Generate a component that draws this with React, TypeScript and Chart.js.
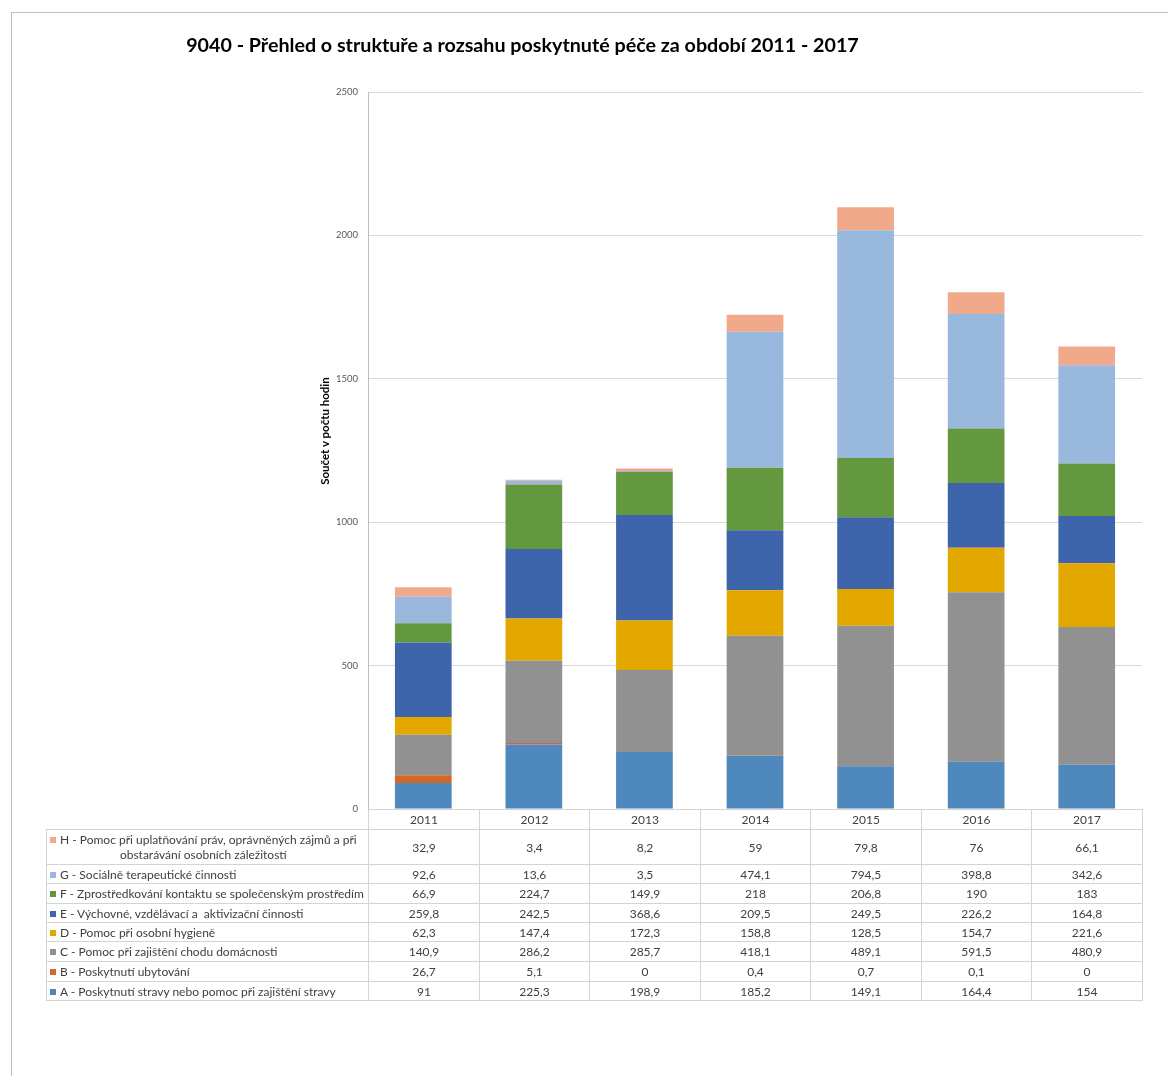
import React, { useEffect, useRef, useState } from "react";
import { Chart, registerables } from "chart.js";

Chart.register(...registerables);

const years = ["2011", "2012", "2013", "2014", "2015", "2016", "2017"];

const serA = [91, 225.3, 198.9, 185.2, 149.1, 164.4, 154];
const serB = [26.7, 5.1, 0, 0.4, 0.7, 0.1, 0];
const serC = [140.9, 286.2, 285.7, 418.1, 489.1, 591.5, 480.9];
const serD = [62.3, 147.4, 172.3, 158.8, 128.5, 154.7, 221.6];
const serE = [259.8, 242.5, 368.6, 209.5, 249.5, 226.2, 164.8];
const serF = [66.9, 224.7, 149.9, 218, 206.8, 190, 183];
const serG = [92.6, 13.6, 3.5, 474.1, 794.5, 398.8, 342.6];
const serH = [32.9, 3.4, 8.2, 59, 79.8, 76, 66.1];

const labA = "A - Poskytnutí stravy nebo pomoc při zajištění stravy";
const labB = "B - Poskytnutí ubytování";
const labC = "C - Pomoc při zajištění chodu domácnosti";
const labD = "D - Pomoc při osobní hygieně";
const labE = "E - Výchovné, vzdělávací a  aktivizační činnosti";
const labF = "F - Zprostředkování kontaktu se společenským prostředím";
const labG = "G - Sociálně terapeutické činnosti";
const labH = "H - Pomoc při uplatňování práv, oprávněných zájmů a při\nobstarávání osobních záležitostí";

const yTicks = [0, 500, 1000, 1500, 2000, 2500];

const title = "9040 - Přehled o struktuře a rozsahu poskytnuté péče za období 2011 - 2017";
const yTitle = "Součet v počtu hodin";

// bottom -> top stacking order
const seriesList = [
  { label: labA, data: serA, color: "#4E88BD" },
  { label: labB, data: serB, color: "#D2692A" },
  { label: labC, data: serC, color: "#919191" },
  { label: labD, data: serD, color: "#E2A800" },
  { label: labE, data: serE, color: "#3E64AC" },
  { label: labF, data: serF, color: "#63983F" },
  { label: labG, data: serG, color: "#98B8DE" },
  { label: labH, data: serH, color: "#F1A98C" },
];

const FONT = 'Lato, "Open Sans", sans-serif';
const W = 1160;
const H = 1068;
// row boundaries of the data table, offsets below the x axis
const rowEdges = [0, 20, 55, 74, 94, 113, 132, 152, 172, 191];
const LINE = "#D4D4D4";
const TEXT = "#404040";

const fmt = (v: number) => String(v).replace(".", ",");

export default function App() {
  const canvasRef = useRef<HTMLCanvasElement | null>(null);
  const [area, setArea] = useState<{ left: number; right: number; bottom: number } | null>(null);

  useEffect(() => {
    if (!canvasRef.current) return;
    const chart = new Chart(canvasRef.current, {
      type: "bar",
      data: {
        labels: years,
        datasets: seriesList.map((s) => ({
          label: s.label.replace("\n", " "),
          data: s.data,
          backgroundColor: s.color,
          borderWidth: 0,
          barPercentage: 1 / 1.95,
          categoryPercentage: 1,
        })),
      },
      options: {
        responsive: false,
        animation: false,
        devicePixelRatio: 1,
        layout: { padding: { left: 300, right: 26, top: 84, bottom: H - 801 } },
        plugins: { legend: { display: false }, tooltip: { enabled: false }, title: { display: false } },
        scales: {
          x: { stacked: true, display: false },
          y: {
            stacked: true,
            min: 0,
            max: 2500,
            afterFit: (scale: any) => {
              scale.width = 60;
            },
            afterBuildTicks: (scale: any) => {
              scale.ticks = yTicks.map((v) => ({ value: v }));
            },
            border: { display: true, color: "#BFBFBF", width: 1 },
            grid: { color: "#D9D9D9", lineWidth: 1, drawTicks: false },
            ticks: {
              color: "#595959",
              padding: 10,
              font: { family: FONT, size: 9.5 },
              callback: (v: any) => String(v),
            },
          },
        },
      },
    });
    setArea({
      left: Math.round(chart.chartArea.left),
      right: Math.round(chart.chartArea.right),
      bottom: Math.round(chart.chartArea.bottom),
    });
    return () => chart.destroy();
  }, []);

  const cells: React.ReactNode[] = [];
  if (area) {
    const n = years.length;
    const colX = (i: number) => Math.round(area.left + ((area.right - area.left) * i) / n);
    const rowY = (r: number) => area.bottom + rowEdges[r];
    const labelLeft = 38;
    const cellStyle = (x0: number, y0: number, x1: number, y1: number): React.CSSProperties => ({
      position: "absolute",
      left: x0,
      top: y0,
      width: x1 - x0 + 1,
      height: y1 - y0 + 1,
      boxSizing: "border-box",
      border: `1px solid ${LINE}`,
      display: "flex",
      alignItems: "center",
      justifyContent: "center",
      fontFamily: FONT,
      fontSize: 12,
      color: TEXT,
      whiteSpace: "pre",
    });
    // header row
    years.forEach((y, c) => {
      cells.push(
        <div key={`h${c}`} style={cellStyle(colX(c), rowY(0), colX(c + 1), rowY(1))}>
          {y}
        </div>
      );
    });
    const rows = [...seriesList].reverse();
    rows.forEach((s, r) => {
      const y0 = rowY(r + 1);
      const y1 = rowY(r + 2);
      const lines = s.label.split("\n");
      cells.push(
        <div
          key={`l${r}`}
          style={{ ...cellStyle(labelLeft, y0, area.left, y1), justifyContent: "flex-start", paddingLeft: 3 }}
        >
          <div style={{ display: "inline-block", textAlign: "center", lineHeight: "15px" }}>
            <div>
              <span
                style={{
                  display: "inline-block",
                  width: 6,
                  height: 6,
                  background: s.color,
                  marginRight: 4,
                  verticalAlign: "1px",
                }}
              />
              {lines[0]}
            </div>
            {lines.slice(1).map((l, i) => (
              <div key={i}>{l}</div>
            ))}
          </div>
        </div>
      );
      s.data.forEach((v, c) => {
        cells.push(
          <div key={`v${r}_${c}`} style={cellStyle(colX(c), y0, colX(c + 1), y1)}>
            {fmt(v)}
          </div>
        );
      });
    });
  }

  return (
    <div style={{ position: "relative", width: W, height: H, overflow: "hidden", background: "#fff" }}>
      <div
        style={{
          position: "absolute",
          left: 3,
          top: 4,
          width: 2000,
          height: 2000,
          borderLeft: "1px solid #BFBFBF",
          borderTop: "1px solid #BFBFBF",
        }}
      />
      <canvas ref={canvasRef} width={W} height={H} style={{ position: "absolute", left: 0, top: 0, width: W, height: H }} />
      <div
        style={{
          position: "absolute",
          left: 114,
          width: 801,
          top: 25,
          textAlign: "center",
          fontFamily: FONT,
          fontWeight: 700,
          fontSize: 19.7,
          lineHeight: "24px",
          color: "#000",
          whiteSpace: "nowrap",
        }}
      >
        {title}
      </div>
      <div
        style={{
          position: "absolute",
          left: 217,
          top: 416,
          width: 200,
          height: 14,
          lineHeight: "14px",
          transform: "rotate(-90deg)",
          textAlign: "center",
          fontFamily: FONT,
          fontWeight: 700,
          fontSize: 11.5,
          color: "#000",
          whiteSpace: "nowrap",
        }}
      >
        {yTitle}
      </div>
      {cells}
    </div>
  );
}
